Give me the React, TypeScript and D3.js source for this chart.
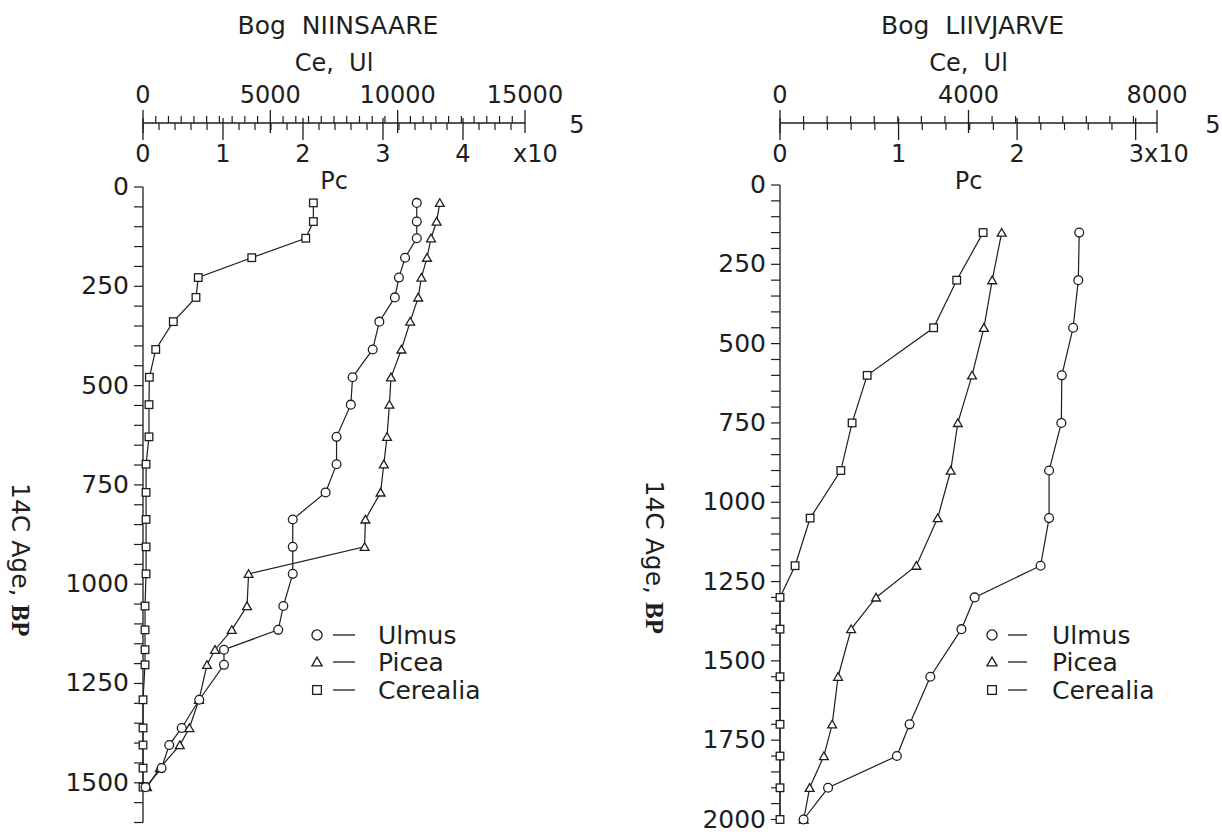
import React from 'react';
import * as d3 from 'd3';

// ---------- Data: Bog NIINSAARE ----------
const niinAges = [40, 87, 129, 178, 228, 278, 339, 409, 479, 548, 629, 698, 769, 837, 906, 974, 1055, 1115, 1165, 1203, 1291, 1362, 1405, 1463, 1511];
const niinUlmus = [10750, 10750, 10750, 10290, 10050, 9890, 9280, 9020, 8230, 8160, 7600, 7600, 7170, 5880, 5880, 5880, 5510, 5310, 3180, 3180, 2210, 1520, 1030, 730, 100];
const niinPicea = [3.71, 3.67, 3.6, 3.55, 3.48, 3.44, 3.34, 3.23, 3.1, 3.08, 3.05, 3.01, 2.97, 2.78, 2.77, 1.32, 1.3, 1.11, 0.9, 0.8, 0.7, 0.58, 0.46, 0.21, 0.05];
const niinCerealia = [6690, 6690, 6390, 4270, 2170, 2080, 1190, 500, 250, 235, 235, 120, 120, 120, 120, 120, 80, 80, 80, 80, 0, 0, 0, 0, 0];

// ---------- Data: Bog LIIVJARVE ----------
const liivAges = [150, 300, 450, 600, 750, 900, 1050, 1200, 1300, 1400, 1550, 1700, 1800, 1900, 2000];
const liivUlmus = [6350, 6330, 6220, 5980, 5970, 5710, 5710, 5530, 4130, 3850, 3190, 2750, 2480, 1020, 500];
const liivPicea = [1.87, 1.79, 1.72, 1.62, 1.5, 1.44, 1.33, 1.15, 0.81, 0.6, 0.49, 0.44, 0.37, 0.25, 0.2];
const liivCerealia = [4310, 3750, 3260, 1850, 1530, 1290, 640, 320, 0, 0, 0, 0, 0, 0, 0];

// ---------- Axis labels ----------
const niinCeTicks = [0, 5000, 10000, 15000];
const niinPcTicks = [0, 1, 2, 3, 4];
const niinPcLabels = ['0', '1', '2', '3', '4'];
const liivCeTicks = [0, 4000, 8000];
const liivPcTicks = [0, 1, 2, 3];
const liivPcLabels = ['0', '1', '2', '3x10'];
const niinAgeTicks = [0, 250, 500, 750, 1000, 1250, 1500];
const liivAgeTicks = [0, 250, 500, 750, 1000, 1250, 1500, 1750, 2000];
const legendNames = ['Ulmus', 'Picea', 'Cerealia'];

const FONT = "'DejaVu Sans', sans-serif";
const INK = '#1e1e1e';

type Sym = 'circle' | 'triangle' | 'square';

function Marker({ x, y, type, s = 1 }: { x: number; y: number; type: Sym; s?: number }) {
  const common = { fill: '#fff', stroke: INK, strokeWidth: 1.3 };
  if (type === 'circle') return <circle cx={x} cy={y} r={4.4 * s} {...common} />;
  if (type === 'square') return <rect x={x - 3.8 * s} y={y - 3.8 * s} width={7.6 * s} height={7.6 * s} {...common} />;
  const p = d3.symbol(d3.symbolTriangle, 34 * s * s)();
  return <path d={p || ''} transform={`translate(${x},${y + 1})`} {...common} />;
}

type PanelProps = {
  title: string;
  ages: number[];
  ulmus: number[];
  picea: number[];
  cerealia: number[];
  ceMax: number;
  ceTicks: number[];
  pcMax: number;
  pcTicks: number[];
  pcLabels: string[];
  pcSuffix?: { text: string; x: number };
  ageMax: number;
  ageTicks: number[];
  x0: number;
  x1: number;
  y0: number;
  y1: number;
  axisY: number;
  expX: number;
  ylabelX: number;
  legend: { sx: number; dx0: number; dx1: number; tx: number; rows: number[] };
};

function Panel(p: PanelProps) {
  const xCe = d3.scaleLinear().domain([0, p.ceMax]).range([p.x0, p.x1]);
  const xPc = d3.scaleLinear().domain([0, p.pcMax]).range([p.x0, p.x1]);
  const y = d3.scaleLinear().domain([0, p.ageMax]).range([p.y0, p.y1]);
  const cx = (p.x0 + p.x1) / 2;
  const ay = p.axisY;

  const ceMinor = d3.range(0, p.ceMax + 1, 500).filter((v) => !p.ceTicks.includes(v));
  const pcMinor = d3.range(0, Math.round(p.pcMax * 5) + 1).map((i) => i / 5).filter((v) => Math.abs(v - Math.round(v)) > 1e-6 && v <= p.pcMax);
  const ageMinor = d3.range(0, p.ageMax + 1, 50);

  const seriesCe = (vals: number[]) => d3.line<number>().x((v) => xCe(v)).y((_, i) => y(p.ages[i]))(vals) || '';
  const seriesPc = (vals: number[]) => d3.line<number>().x((v) => xPc(v)).y((_, i) => y(p.ages[i]))(vals) || '';

  return (
    <g fontFamily={FONT} fill={INK}>
      {/* titles */}
      <text x={cx + 4} y={34} fontSize={25} textAnchor="middle" style={{ whiteSpace: 'pre' }}>{p.title}</text>
      <text x={cx} y={71} fontSize={24} textAnchor="middle" style={{ whiteSpace: 'pre' }}>{'Ce,  Ul'}</text>
      {/* top axis */}
      <line x1={p.x0} x2={p.x1} y1={ay} y2={ay} stroke={INK} strokeWidth={1.3} />
      {ceMinor.map((v) => (
        <line key={'cm' + v} x1={xCe(v)} x2={xCe(v)} y1={ay - 7} y2={ay} stroke={INK} strokeWidth={1.2} />
      ))}
      {p.ceTicks.map((v) => (
        <g key={'cM' + v}>
          <line x1={xCe(v)} x2={xCe(v)} y1={ay - 13} y2={ay + 10} stroke={INK} strokeWidth={1.3} />
          <text x={xCe(v)} y={103} fontSize={24} textAnchor="middle">{v}</text>
        </g>
      ))}
      {pcMinor.map((v) => (
        <line key={'pm' + v} x1={xPc(v)} x2={xPc(v)} y1={ay} y2={ay + 7} stroke={INK} strokeWidth={1.2} />
      ))}
      {p.pcTicks.map((v, i) => (
        <g key={'pM' + v}>
          <line x1={xPc(v)} x2={xPc(v)} y1={ay - 5} y2={ay + 17} stroke={INK} strokeWidth={1.3} />
          <text x={xPc(v) - (p.pcLabels[i].length > 1 ? 7 : 0)} y={162} fontSize={24} textAnchor={p.pcLabels[i].length > 1 ? 'start' : 'middle'}>{p.pcLabels[i]}</text>
        </g>
      ))}
      {p.pcSuffix && (
        <text x={p.pcSuffix.x} y={162} fontSize={24} textAnchor="start">{p.pcSuffix.text}</text>
      )}
      <text x={p.expX} y={133} fontSize={24} textAnchor="middle">5</text>
      <text x={cx} y={189} fontSize={24} textAnchor="middle">Pc</text>

      {/* left axis */}
      <line x1={p.x0} x2={p.x0} y1={y(0)} y2={y(p.ageMax)} stroke={INK} strokeWidth={1.3} />
      {ageMinor.map((v) => (
        <line key={'a' + v} x1={p.x0 - 9} x2={p.x0} y1={y(v)} y2={y(v)} stroke={INK} strokeWidth={1.2} />
      ))}
      {p.ageTicks.map((v) => (
        <text key={'al' + v} x={p.x0 - 14} y={y(v) + 8} fontSize={25} textAnchor="end">{v}</text>
      ))}
      <text transform={`translate(${p.ylabelX},${(p.y0 + p.y1) / 2 + 55}) rotate(90)`} fontSize={25} textAnchor="middle" dominantBaseline="central">
        <tspan>{'14C Age, '}</tspan>
        <tspan fontFamily="'Liberation Serif', serif" fontWeight="bold">BP</tspan>
      </text>

      {/* series lines */}
      <g fill="none" stroke={INK} strokeWidth={1.2}>
        <path d={seriesCe(p.cerealia)} />
        <path d={seriesCe(p.ulmus)} />
        <path d={seriesPc(p.picea)} />
      </g>
      {/* markers */}
      {p.cerealia.map((v, i) => <Marker key={'c' + i} x={xCe(v)} y={y(p.ages[i])} type="square" />)}
      {p.picea.map((v, i) => <Marker key={'p' + i} x={xPc(v)} y={y(p.ages[i])} type="triangle" />)}
      {p.ulmus.map((v, i) => <Marker key={'u' + i} x={xCe(v)} y={y(p.ages[i])} type="circle" />)}

      {/* legend */}
      {legendNames.map((name, i) => {
        const ry = p.legend.rows[i];
        const t: Sym = i === 0 ? 'circle' : i === 1 ? 'triangle' : 'square';
        return (
          <g key={'lg' + name}>
            <Marker x={p.legend.sx} y={ry} type={t} s={1.15} />
            <line x1={p.legend.dx0} x2={p.legend.dx1} y1={ry} y2={ry} stroke={INK} strokeWidth={1.3} />
            <text x={p.legend.tx} y={ry + 9} fontSize={25}>{name}</text>
          </g>
        );
      })}
    </g>
  );
}

export default function App() {
  return (
    <svg width={1222} height={832} style={{ position: 'absolute', left: 0, top: 0, background: '#fff' }}>
      <rect width={1222} height={832} fill="#fff" />
      <Panel
        title={'Bog  NIINSAARE'}
        ages={niinAges}
        ulmus={niinUlmus}
        picea={niinPicea}
        cerealia={niinCerealia}
        ceMax={15000}
        ceTicks={niinCeTicks}
        pcMax={4.775}
        pcTicks={niinPcTicks}
        pcLabels={niinPcLabels}
        pcSuffix={{ text: 'x10', x: 513 }}
        ageMax={1600}
        ageTicks={niinAgeTicks}
        x0={143}
        x1={525}
        y0={187}
        y1={822.5}
        axisY={123}
        expX={577}
        ylabelX={21}
        legend={{ sx: 317, dx0: 333, dx1: 355, tx: 378, rows: [635, 662, 690] }}
      />
      <Panel
        title={'Bog  LIIVJARVE'}
        ages={liivAges}
        ulmus={liivUlmus}
        picea={liivPicea}
        cerealia={liivCerealia}
        ceMax={8000}
        ceTicks={liivCeTicks}
        pcMax={3.18}
        pcTicks={liivPcTicks}
        pcLabels={liivPcLabels}
        ageMax={2000}
        ageTicks={liivAgeTicks}
        x0={780}
        x1={1157}
        y0={185}
        y1={819.5}
        axisY={123}
        expX={1213}
        ylabelX={655}
        legend={{ sx: 992, dx0: 1008, dx1: 1027, tx: 1052, rows: [635, 662, 690] }}
      />
    </svg>
  );
}
